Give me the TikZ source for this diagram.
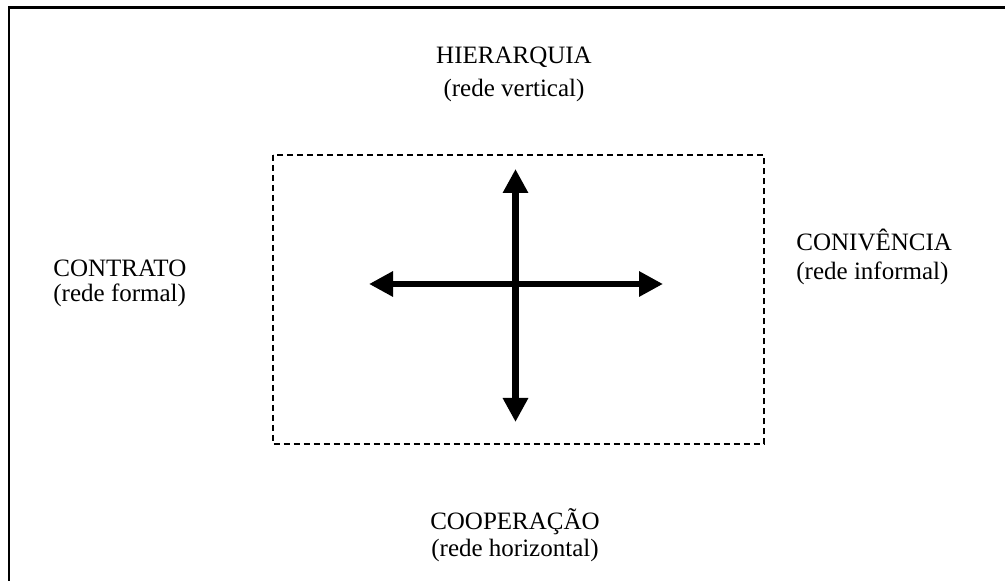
\documentclass[tikz,border=0pt]{standalone}
\usepackage{fontspec}
\setmainfont{Liberation Serif}
\usetikzlibrary{arrows.meta}
\tikzset{
	lbl/.style={inner sep=0pt, font=\fontsize{12.5}{15}\selectfont}, %etykiety tekstowe
	bigarrow/.style={line width=3.4pt, {Triangle[width=12pt,length=12pt]}-{Triangle[width=12pt,length=12pt]}},
	dashbox/.style={line width=1pt, dash pattern=on 3pt off 2pt},
}
\begin{document}
\begin{tikzpicture}[x=0.5pt, y=-0.5pt]
	\useasboundingbox (0,0) rectangle (1005,581);
	% ramka zewnetrzna (widoczna tylko gora i lewa strona)
	\coordinate (fbl) at (9.2,581);
	\coordinate (ftr) at (1005,7.3);
	\draw[line width=1.25pt] (fbl) |- (ftr);
	% prostokat przerywany
	\coordinate (bnw) at (273,155);
	\coordinate (bse) at (763.5,444.5);
	\draw[dashbox] (bnw) rectangle (bse);
	% strzalki
	\coordinate (n) at (515.5,169);
	\coordinate (s) at (515.5,422);
	\coordinate (w) at (369,284);
	\coordinate (e) at (663,284);
	\draw[bigarrow] (s) -- (n);
	\draw[bigarrow] (w) -- (e);
	% etykiety
	\node[lbl, anchor=base] (hier) at (514,64) {HIERARQUIA};
	\node[lbl, anchor=base] (hiersub) at (514,97) {(rede vertical)};
	\node[lbl, anchor=base west] (contr) at (53,277) {CONTRATO};
	\node[lbl, anchor=base west] (contrsub) at (53,302) {(rede formal)};
	\node[lbl, anchor=base west] (conv) at (796,251) {CONIVÊNCIA};
	\node[lbl, anchor=base west] (convsub) at (796,280) {(rede informal)};
	\node[lbl, anchor=base] (coop) at (515,530) {COOPERAÇÃO};
	\node[lbl, anchor=base] (coopsub) at (515,557) {(rede horizontal)};
\end{tikzpicture}
\end{document}
